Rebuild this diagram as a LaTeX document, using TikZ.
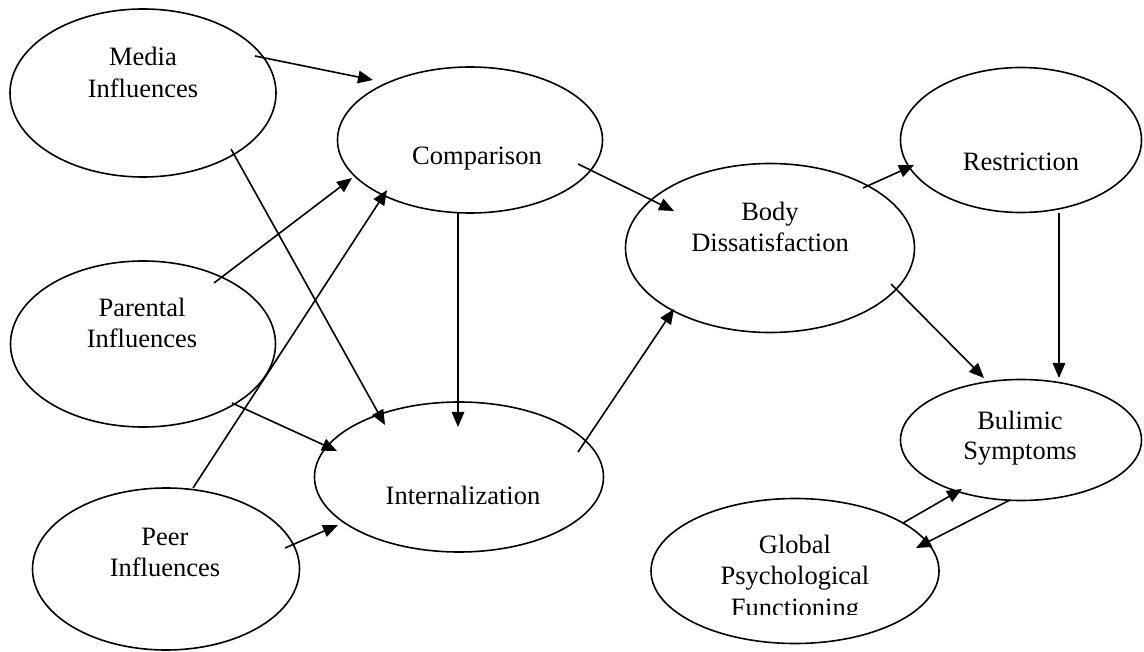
\documentclass[tikz,border=0pt]{standalone}
\usepackage{fontspec}
\setmainfont{Liberation Serif}
\usetikzlibrary{shapes.geometric,arrows.meta}
\begin{document}
\begin{tikzpicture}[x=1pt,y=-1pt,
  ell/.style={draw,ellipse,line width=1.6pt,inner sep=0pt},
  lbl/.style={anchor=base,inner sep=0pt,font=\fontsize{26.5}{32}\selectfont},
  arr/.style={line width=1.6pt,-{Triangle[length=15pt,width=12.5pt]}}]
\useasboundingbox (0,0) rectangle (1144,652);
% ellipses
\node[ell,minimum width=266pt,minimum height=168pt] (media) at (143,93) {};
\node[ell,minimum width=265pt,minimum height=146pt] (comp) at (470,140) {};
\node[ell,minimum width=265pt,minimum height=166pt] (par) at (143,344) {};
\node[ell,minimum width=289pt,minimum height=150pt] (intl) at (459,477) {};
\node[ell,minimum width=267pt,minimum height=162pt] (peer) at (166,569) {};
\node[ell,minimum width=289pt,minimum height=169pt] (body) at (770,248) {};
\node[ell,minimum width=241pt,minimum height=145pt] (restr) at (1021,140) {};
\node[ell,minimum width=241pt,minimum height=121pt] (bul) at (1021,440) {};
\node[ell,minimum width=288pt,minimum height=145pt] (glob) at (795,571) {};
% texts
\node[lbl] (mediaA) at (143,66) {Media};
\node[lbl] (mediaB) at (143,98) {Influences};
\node[lbl] (compA) at (477,165) {Comparison};
\node[lbl] (parA) at (142,317) {Parental};
\node[lbl] (parB) at (142,348) {Influences};
\node[lbl] (intlA) at (463,504) {Internalization};
\node[lbl] (peerA) at (165,545) {Peer};
\node[lbl] (peerB) at (165,576) {Influences};
\node[lbl] (bodyA) at (770,221) {Body};
\node[lbl] (bodyB) at (770,252) {Dissatisfaction};
\node[lbl] (restrA) at (1021,171) {Restriction};
\node[lbl] (bulA) at (1020,430) {Bulimic};
\node[lbl] (bulB) at (1020,460) {Symptoms};
\node[lbl] (globA) at (795,553) {Global};
\node[lbl] (globB) at (795,584) {Psychological};
\begin{scope}
\clip (0,0) rectangle (1144,614);
\node[lbl] (globC) at (795,616) {Functioning};
\end{scope}
% arrows
\draw[arr] ([shift={(112,-37)}]media.center) -- ([shift={(-97,-60)}]comp.center);
\draw[arr] ([shift={(88,56)}]media.center) -- ([shift={(-74,-52)}]intl.center);
\draw[arr] ([shift={(71,-61)}]par.center) -- ([shift={(-118,38)}]comp.center);
\draw[arr] ([shift={(89,59)}]par.center) -- ([shift={(-122,-26)}]intl.center);
\draw[arr] ([shift={(27,-81)}]peer.center) -- ([shift={(-83,50)}]comp.center);
\draw[arr] ([shift={(119,-21)}]peer.center) -- ([shift={(-121,48)}]intl.center);
\draw[arr] ([shift={(-12,73)}]comp.center) -- ([shift={(-1,-50)}]intl.center);
\draw[arr] ([shift={(108,24)}]comp.center) -- ([shift={(-96,-37)}]body.center);
\draw[arr] ([shift={(119,-25)}]intl.center) -- ([shift={(-96,61)}]body.center);
\draw[arr] ([shift={(93,-60)}]body.center) -- ([shift={(-107,25)}]restr.center);
\draw[arr] ([shift={(121,36)}]body.center) -- ([shift={(-37,-62)}]bul.center);
\draw[arr] ([shift={(38,73)}]restr.center) -- ([shift={(38,-62)}]bul.center);
\draw[arr] ([shift={(108,-48)}]glob.center) -- ([shift={(-59,49)}]bul.center);
\draw[arr] ([shift={(-11,60)}]bul.center) -- ([shift={(121,-23)}]glob.center);
\end{tikzpicture}
\end{document}
